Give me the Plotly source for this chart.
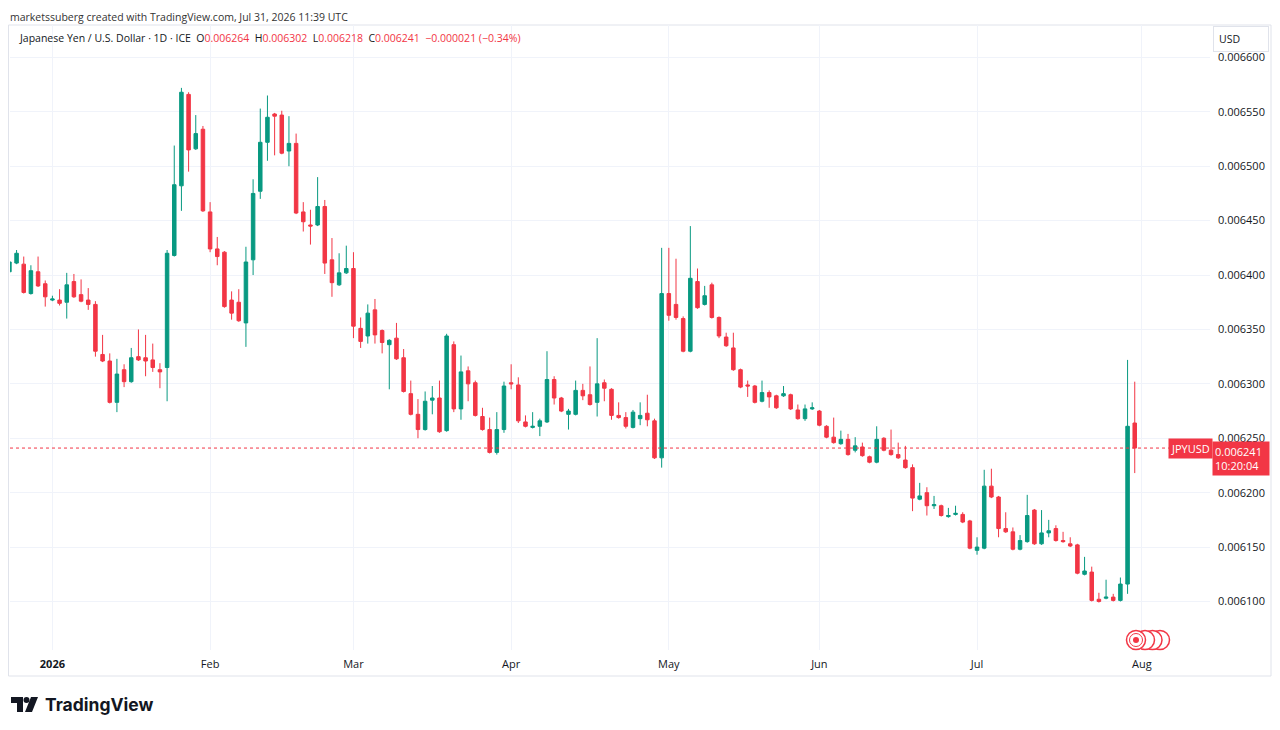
#!/usr/bin/env python3
"""JPY/USD daily candles (ICE), TradingView-style snapshot redrawn with Plotly."""
from __future__ import annotations

import pandas as pd
import plotly.graph_objects as go

# --- data (prices in millionths of a US dollar) ---------------------------
first_day = "2025-12-24"
last_day = "2026-07-31"

opens = [
    6403, 6411, 6410, 6383, 6403, 6392, 6377, 6377, 6375, 6394,
    6382, 6377, 6373, 6327, 6321, 6283, 6313, 6302, 6325, 6324,
    6322, 6313, 6315, 6418, 6482, 6566, 6516, 6534, 6458, 6424,
    6421, 6377, 6375, 6356, 6414, 6477, 6522, 6548, 6547, 6514,
    6521, 6458, 6446, 6446, 6463, 6414, 6391, 6402, 6406, 6351,
    6344, 6368, 6349, 6336, 6342, 6324, 6291, 6272, 6258, 6285,
    6287, 6257, 6336, 6277, 6312, 6301, 6270, 6258, 6237, 6258,
    6301, 6299, 6265, 6260, 6261, 6265, 6304, 6287, 6272, 6272,
    6294, 6290, 6283, 6301, 6295, 6271, 6269, 6260, 6268, 6273,
    6266, 6232, 6383, 6373, 6360, 6330, 6394, 6373, 6391, 6361,
    6343, 6333, 6313, 6299, 6298, 6284, 6292, 6289, 6289, 6290,
    6276, 6268, 6277, 6275, 6261, 6251, 6245, 6249, 6239, 6242,
    6233, 6228, 6250, 6239, 6235, 6230, 6223, 6194, 6200, 6188,
    6188, 6178, 6180, 6180, 6174, 6147, 6149, 6206, 6196, 6167,
    6164, 6148, 6155, 6184, 6153, 6163, 6167, 6156, 6153, 6152,
    6125, 6127, 6102, 6103, 6104, 6101, 6116, 6264,
]
highs = [
    6413, 6423, 6417, 6409, 6417, 6395, 6381, 6387, 6402, 6401,
    6396, 6388, 6376, 6345, 6328, 6323, 6318, 6333, 6350, 6345,
    6337, 6319, 6423, 6519, 6572, 6568, 6547, 6537, 6467, 6435,
    6422, 6385, 6387, 6426, 6488, 6553, 6565, 6549, 6551, 6546,
    6530, 6467, 6460, 6490, 6469, 6434, 6420, 6427, 6421, 6361,
    6373, 6378, 6350, 6341, 6356, 6332, 6303, 6286, 6293, 6298,
    6303, 6346, 6339, 6326, 6316, 6303, 6278, 6269, 6274, 6302,
    6318, 6306, 6271, 6274, 6268, 6330, 6307, 6288, 6277, 6303,
    6300, 6316, 6342, 6304, 6296, 6283, 6274, 6276, 6283, 6290,
    6268, 6425, 6425, 6415, 6362, 6445, 6406, 6390, 6393, 6362,
    6347, 6347, 6314, 6303, 6299, 6303, 6294, 6290, 6298, 6291,
    6281, 6281, 6283, 6276, 6262, 6269, 6257, 6254, 6251, 6246,
    6234, 6261, 6251, 6258, 6246, 6243, 6226, 6209, 6205, 6197,
    6189, 6186, 6188, 6182, 6175, 6159, 6221, 6222, 6197, 6182,
    6168, 6161, 6198, 6185, 6184, 6175, 6170, 6164, 6159, 6153,
    6141, 6132, 6108, 6120, 6107, 6122, 6322, 6302,
]
lows = [
    6402, 6410, 6383, 6382, 6389, 6371, 6376, 6372, 6360, 6379,
    6375, 6368, 6325, 6320, 6282, 6274, 6297, 6301, 6321, 6307,
    6311, 6296, 6284, 6417, 6459, 6495, 6515, 6458, 6421, 6409,
    6370, 6359, 6357, 6334, 6400, 6470, 6505, 6510, 6511, 6500,
    6456, 6440, 6428, 6445, 6401, 6380, 6390, 6401, 6342, 6333,
    6337, 6337, 6328, 6295, 6322, 6292, 6271, 6250, 6257, 6272,
    6255, 6256, 6274, 6267, 6284, 6270, 6257, 6236, 6235, 6255,
    6295, 6264, 6260, 6259, 6252, 6264, 6281, 6274, 6258, 6271,
    6285, 6280, 6270, 6284, 6267, 6268, 6259, 6259, 6262, 6261,
    6231, 6223, 6358, 6359, 6329, 6329, 6369, 6372, 6360, 6342,
    6334, 6312, 6296, 6288, 6282, 6283, 6278, 6277, 6288, 6276,
    6267, 6266, 6276, 6261, 6250, 6245, 6244, 6234, 6237, 6233,
    6227, 6227, 6238, 6234, 6231, 6222, 6183, 6193, 6179, 6185,
    6178, 6177, 6179, 6172, 6148, 6143, 6148, 6195, 6159, 6163,
    6147, 6147, 6154, 6152, 6152, 6159, 6155, 6154, 6150, 6125,
    6124, 6100, 6099, 6102, 6100, 6100, 6107, 6218,
]
closes = [
    6412, 6420, 6384, 6404, 6390, 6380, 6378, 6374, 6391, 6380,
    6376, 6373, 6330, 6321, 6283, 6309, 6302, 6324, 6322, 6321,
    6315, 6311, 6420, 6483, 6568, 6515, 6530, 6459, 6424, 6417,
    6371, 6365, 6358, 6412, 6475, 6522, 6545, 6546, 6512, 6521,
    6457, 6449, 6445, 6463, 6411, 6393, 6402, 6406, 6353, 6339,
    6365, 6345, 6338, 6340, 6323, 6293, 6272, 6258, 6284, 6287,
    6256, 6344, 6277, 6311, 6300, 6271, 6258, 6237, 6258, 6298,
    6300, 6266, 6261, 6261, 6266, 6304, 6287, 6275, 6275, 6294,
    6289, 6281, 6300, 6296, 6271, 6269, 6261, 6274, 6271, 6267,
    6232, 6383, 6363, 6361, 6330, 6397, 6370, 6381, 6361, 6344,
    6335, 6313, 6297, 6298, 6283, 6292, 6288, 6278, 6291, 6277,
    6268, 6277, 6278, 6262, 6251, 6246, 6249, 6235, 6243, 6234,
    6228, 6249, 6239, 6235, 6232, 6223, 6195, 6197, 6188, 6189,
    6179, 6179, 6181, 6173, 6149, 6150, 6206, 6196, 6167, 6164,
    6148, 6156, 6179, 6153, 6163, 6165, 6156, 6155, 6151, 6126,
    6128, 6101, 6100, 6104, 6101, 6116, 6261, 6241,
]

month_ticks = ["2026-01-01", "2026-02-02", "2026-03-02", "2026-04-01",
               "2026-05-01", "2026-06-01", "2026-07-01", "2026-08-03"]
month_labels = ["<b>2026</b>", "Feb", "Mar", "Apr", "May", "Jun", "Jul", "Aug"]

last_price = 0.006241
countdown = "10:20:04"

UP = "#089981"
DOWN = "#F23645"
TEXT = "#131722"
GRID = "#F0F3FA"
FONT = "Open Sans"

# the page body keeps its default 8px margin, so the figure starts at (8, 8)
OFF = 8
W, H = 1264, 714
# plot area in page pixels
L, R, T, B = 10, 1210, 25, 650


def px(x: float) -> float:
    return (x - L) / (R - L)


def py(y: float) -> float:
    return (B - y) / (B - T)


def build_figure() -> go.Figure:
    dates = pd.bdate_range(first_day, last_day)
    scale = 1e-6

    fig = go.Figure()
    fig.add_trace(
        go.Candlestick(
            x=dates,
            open=[v * scale for v in opens],
            high=[v * scale for v in highs],
            low=[v * scale for v in lows],
            close=[v * scale for v in closes],
            increasing=dict(line=dict(color=UP, width=1), fillcolor=UP),
            decreasing=dict(line=dict(color=DOWN, width=1), fillcolor=DOWN),
            whiskerwidth=0,
            name="JPYUSD",
            showlegend=False,
        )
    )

    # last price dotted line
    fig.add_shape(type="line", xref="paper", x0=0, x1=1, yref="y",
                  y0=last_price, y1=last_price,
                  line=dict(color=DOWN, width=1, dash="dot"))

    # panel frame
    fig.add_shape(type="rect", xref="paper", yref="paper",
                  x0=px(8.5), x1=px(1271), y0=py(676), y1=py(25),
                  line=dict(color="#E0E3EB", width=1), layer="below")

    # event icons under the last candles
    for cx in (1160, 1152.5, 1145, 1136):
        fig.add_shape(type="circle", xref="paper", yref="paper",
                      x0=px(cx - 9.5), x1=px(cx + 9.5), y0=py(649.5), y1=py(630.5),
                      line=dict(color=DOWN, width=1.5), fillcolor="white")
    fig.add_shape(type="circle", xref="paper", yref="paper",
                  x0=px(1136 - 6.5), x1=px(1136 + 6.5), y0=py(646.5), y1=py(633.5),
                  line=dict(color=DOWN, width=1), fillcolor="white")
    fig.add_shape(type="circle", xref="paper", yref="paper",
                  x0=px(1133), x1=px(1139), y0=py(643), y1=py(637),
                  line=dict(color=DOWN, width=0), fillcolor=DOWN)

    # TradingView logo mark
    fig.add_shape(type="path", xref="paper", yref="paper",
                  path=f"M {px(11)} {py(697)} L {px(23)} {py(697)} L {px(23)} {py(712)} "
                       f"L {px(17)} {py(712)} L {px(17)} {py(703)} L {px(11)} {py(703)} Z",
                  line=dict(width=0), fillcolor=TEXT)
    fig.add_shape(type="circle", xref="paper", yref="paper",
                  x0=px(23.5), x1=px(29.5), y0=py(703), y1=py(697),
                  line=dict(width=0), fillcolor=TEXT)
    fig.add_shape(type="path", xref="paper", yref="paper",
                  path=f"M {px(31)} {py(697)} L {px(38)} {py(697)} L {px(32)} {py(712)} "
                       f"L {px(25)} {py(712)} Z",
                  line=dict(width=0), fillcolor=TEXT)

    red = f'<span style="color:{DOWN}">'
    header = (
        "Japanese Yen / U.S. Dollar · 1D · ICE&nbsp;&nbsp;"
        f"O{red}0.006264</span>&nbsp;&nbsp;H{red}0.006302</span>&nbsp;&nbsp;"
        f"L{red}0.006218</span>&nbsp;&nbsp;C{red}0.006241</span>&nbsp;&nbsp;"
        f"{red}−0.000021 (−0.34%)</span>"
    )

    annotations = [
        dict(text="marketssuberg created with TradingView.com, Jul 31, 2026 11:39 UTC",
             x=px(9), y=py(9), yanchor="top", borderpad=0,
             font=dict(size=10.5, color="#333")),
        dict(text=header, x=px(17), y=py(38), font=dict(size=10.5, color=TEXT)),
        dict(text="<b>TradingView</b>", x=px(43), y=py(704),
             font=dict(size=17.5, color=TEXT, family="Inter")),
        dict(text="USD", x=px(1213), y=py(39), font=dict(size=10.5, color=TEXT),
             bordercolor="#E0E3EB", borderwidth=1, borderpad=5, bgcolor="white",
             width=44, align="left"),
        dict(text="JPYUSD", x=px(1168), y=last_price, yref="y",
             font=dict(size=11, color="white"), bgcolor=DOWN, borderpad=2),
        dict(text=f"{last_price:.6f}<br>{countdown}", x=px(1212), y=py(441),
             yanchor="top", font=dict(size=11, color="white"), bgcolor=DOWN,
             borderpad=2, align="left", width=52),
    ]
    for a in annotations:
        a.setdefault("xref", "paper")
        a.setdefault("yref", "paper")
        a.setdefault("xanchor", "left")
        a.setdefault("yanchor", "middle")
        a.setdefault("showarrow", False)

    fig.update_layout(
        width=W,
        height=H,
        margin=dict(l=L - OFF, r=W + OFF - R, t=T - OFF, b=H + OFF - B, pad=0),
        paper_bgcolor="white",
        plot_bgcolor="white",
        font=dict(family=FONT, color=TEXT, size=11),
        showlegend=False,
        annotations=annotations,
        xaxis=dict(
            type="date",
            rangeslider_visible=False,
            rangebreaks=[dict(bounds=["sat", "mon"])],
            range=["2025-12-24 02:00", "2026-08-14 12:00"],
            tickvals=month_ticks,
            ticktext=month_labels,
            showgrid=True,
            gridcolor=GRID,
            gridwidth=1,
            zeroline=False,
            showline=False,
            ticks="",
            ticklabelstandoff=6,
            tickfont=dict(size=11, color=TEXT),
            automargin=False,
            fixedrange=True,
        ),
        yaxis=dict(
            side="right",
            range=[0.0060554, 0.0066298],
            tick0=0.0061,
            dtick=0.00005,
            tickformat=".6f",
            showgrid=True,
            gridcolor=GRID,
            gridwidth=1,
            zeroline=False,
            showline=False,
            ticks="",
            ticklabelstandoff=7,
            tickfont=dict(size=11, color=TEXT),
            automargin=False,
            fixedrange=True,
        ),
    )
    return fig


def main():
    fig = build_figure()
    fig.write_html("out.html")


if __name__ == "__main__":
    main()
